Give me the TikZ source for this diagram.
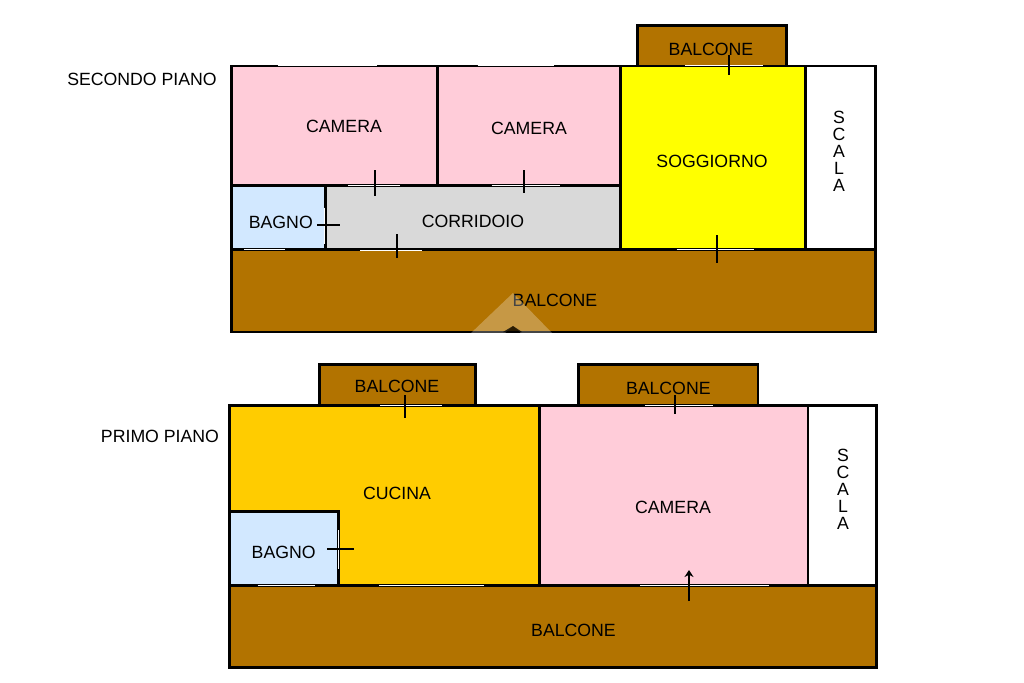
\documentclass[tikz,border=0pt]{standalone}
\usepackage{fontspec}
\setmainfont{Liberation Sans}
\usetikzlibrary{arrows.meta}
\definecolor{pinkroom}{HTML}{FFCCD9}
\definecolor{bathroom}{HTML}{D2E8FF}
\definecolor{balcony}{HTML}{B27300}
\definecolor{hallgrey}{HTML}{D9D9D9}
\definecolor{kitchen}{HTML}{FFCC00}
\definecolor{livingyl}{HTML}{FFFF00}
\tikzset{
  x=1pt,y=-1pt,
  room/.style={draw=black,line width=2.8pt,miter limit=10},
  win/.style={draw=white,line width=1pt},
  tick/.style={draw=black,line width=1.6pt},
  lab/.style={font=\fontsize{17.7}{17.7}\selectfont,text=black,inner sep=0pt,anchor=center},
  vlab/.style={font=\fontsize{17.7}{17}\selectfont,text=black,inner sep=0pt,anchor=center,align=center},
}
\begin{document}
\begin{tikzpicture}
\useasboundingbox[fill=white] (0,0) rectangle (1024,682);
% second floor
\path[room,fill=balcony] (637.7,25.7) rectangle (786.3,66);
\path[room,fill=balcony] (231.5,249.7) rectangle (875.5,332);
\path[room,fill=pinkroom] (231.5,66) rectangle (437.8,185.7);
\path[room,fill=pinkroom] (437.8,66) rectangle (620.7,185.7);
\path[room,fill=livingyl] (620.7,66) rectangle (805.7,249.5);
\path[room,fill=white] (805.7,66) rectangle (875.5,249.5);
\path[room,fill=bathroom] (231.5,185.7) rectangle (325.2,249.7);
\path[room,fill=hallgrey] (325.2,185.7) rectangle (620.7,249.7);
\path[win] (278,65.3) -- (377,65.3);
\path[win] (477.7,65.3) -- (554.3,65.3);
\path[win] (685,65.3) -- (763.3,65.3);
\path[win] (348,185) -- (400,185);
\path[win] (491.7,185) -- (560,185);
\path[win] (324.5,207.7) -- (324.5,244);
\path[win] (244,249.3) -- (285,249.3);
\path[win] (360,250) -- (421.7,250);
\path[win] (676.7,249.3) -- (754,249.3);
\node[lab] (lsecond) at (142,79) {SECONDO PIANO};
\node[lab] (lcam1) at (344,126.7) {CAMERA};
\node[lab] (lcam2) at (529,128.3) {CAMERA};
\node[lab] (lbag1) at (280.8,222.7) {BAGNO};
\node[lab] (lcorr) at (473,221.7) {CORRIDOIO};
\node[lab] (lbal1) at (555,300) {BALCONE};
\node[lab] (lbal2) at (711,49.3) {BALCONE};
\node[lab] (lsogg) at (712,161.7) {SOGGIORNO};
\node[vlab] (lsc1) at (839,151) {S\\C\\A\\L\\A};
\path[tick] (375,170) -- (375,195.7);
\path[tick] (524,170) -- (524,192.7);
\path[tick] (317.3,225) -- (340,225);
\path[tick] (396.7,234) -- (396.7,257.7);
\path[tick] (729,55) -- (729,75);
\path[tick] (716.7,235) -- (716.7,262.7);
% watermark
\path[fill=white,fill opacity=.27] (470,334) -- (513,293) -- (553,334) -- (522,334) -- (513,326) -- (504,334) -- cycle;
\path[fill=black,fill opacity=.75] (503,332) -- (513,326) -- (522,332) -- cycle;
% first floor
\path[room,fill=balcony] (319.7,364.7) rectangle (475.3,405.7);
\path[room,fill=balcony] (578.3,364.7) rectangle (758,405.7);
\path[room,fill=balcony] (229.7,585.7) rectangle (876.3,667.3);
\path[room,fill=kitchen] (229.7,405.7) rectangle (539.7,585.7);
\path[room,fill=pinkroom] (539.7,405.7) rectangle (808,585.7);
\path[room,fill=white] (808,405.7) rectangle (876.3,585.7);
\path[room,fill=bathroom] (229.7,511.3) rectangle (338.7,585.7);
\path[win] (380,405.3) -- (441.7,405.3);
\path[win] (645,405.3) -- (713.3,405.3);
\path[win] (338.3,530) -- (338.3,569);
\path[win] (257.7,585) -- (315,585);
\path[win] (379,585) -- (484,585);
\path[win] (640,585) -- (769,585);
\node[lab] (lprimo) at (160,436) {PRIMO PIANO};
\node[lab] (lbal3) at (397,386.7) {BALCONE};
\node[lab] (lbal4) at (668.3,388.7) {BALCONE};
\node[lab] (lcuc) at (397,493.3) {CUCINA};
\node[lab] (lbag2) at (283.7,552.3) {BAGNO};
\node[lab] (lcam3) at (673,507) {CAMERA};
\node[lab] (lbal5) at (573.5,630) {BALCONE};
\node[vlab] (lsc2) at (843,489.5) {S\\C\\A\\L\\A};
\path[tick] (405,395) -- (405,418.3);
\path[tick] (675,395) -- (675,414);
\path[tick] (327.3,548.7) -- (353.7,548.7);
\coordinate (arrfrom) at (689,601);
\coordinate (arrto) at (689,570);
\draw[tick,-{Stealth[length=7pt,width=9pt]}] (arrfrom) -- (arrto);
\end{tikzpicture}
\end{document}
